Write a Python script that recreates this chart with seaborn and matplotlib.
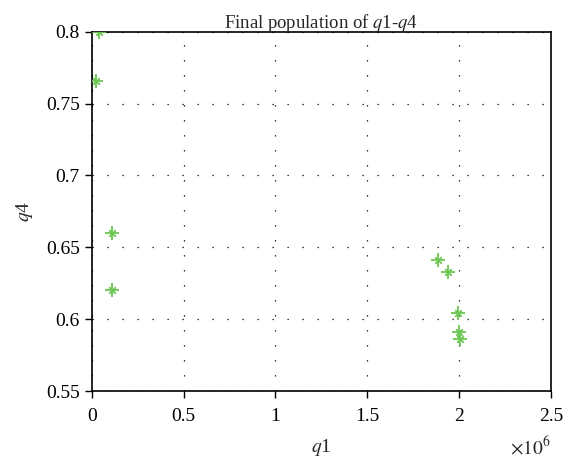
import matplotlib
matplotlib.use("Agg")
import matplotlib.pyplot as plt
import seaborn as sns
import pandas as pd

q1 = [0.04e6, 0.023e6, 0.109e6, 0.109e6, 1.884e6, 1.942e6, 1.995e6, 2.0e6, 2.005e6]
q4 = [0.800, 0.766, 0.660, 0.620, 0.641, 0.633, 0.604, 0.591, 0.586]
xticks = [0, 0.5e6, 1.0e6, 1.5e6, 2.0e6, 2.5e6]
xtick_labels = ["0", "0.5", "1", "1.5", "2", "2.5"]
yticks = [0.55, 0.6, 0.65, 0.7, 0.75, 0.8]
ytick_labels = ["0.55", "0.6", "0.65", "0.7", "0.75", "0.8"]

sns.set_theme(style="white")
plt.rcParams['font.family'] = ['Liberation Serif', 'DejaVu Serif']
plt.rcParams['mathtext.fontset'] = 'stix'

df = pd.DataFrame({"q1": q1, "q4": q4})
green = "#6cc652"

fig = plt.figure(figsize=(5.81, 4.63), dpi=100)
ax = fig.add_axes([0.158, 0.1555, 0.79, 0.776])
sns.scatterplot(data=df, x="q1", y="q4", ax=ax, marker='+', s=90,
                color=green, linewidth=1.3, zorder=3)
sns.scatterplot(data=df, x="q1", y="q4", ax=ax, marker='x', s=22,
                color=green, linewidth=1.3, zorder=3)

ax.set_xlim(0, 2.5e6)
ax.set_ylim(0.55, 0.8)
ax.set_xticks(xticks)
ax.set_xticklabels(xtick_labels)
ax.set_yticks(yticks)
ax.set_yticklabels(ytick_labels)
ax.tick_params(axis='both', direction='out', length=5, width=1, labelsize=14,
               color='black', labelcolor='black', bottom=True, left=True)
ax.tick_params(axis='x', pad=7)
ax.grid(True, color='black', linestyle=(0, (1, 11)), linewidth=0.9)
for sp in ax.spines.values():
    sp.set_color('black')
    sp.set_linewidth(1.2)

ax.set_xlabel("$q$1", fontsize=14, labelpad=9)
ax.set_ylabel("$q$4", fontsize=14, labelpad=8)
ax.set_title("Final population of $q$1-$q$4", fontsize=13.5, pad=3)
ax.text(1.0, -0.125, r"$\times10^{6}$", transform=ax.transAxes, ha='right', va='top', fontsize=14)

fig.savefig("out.png", dpi=100)
